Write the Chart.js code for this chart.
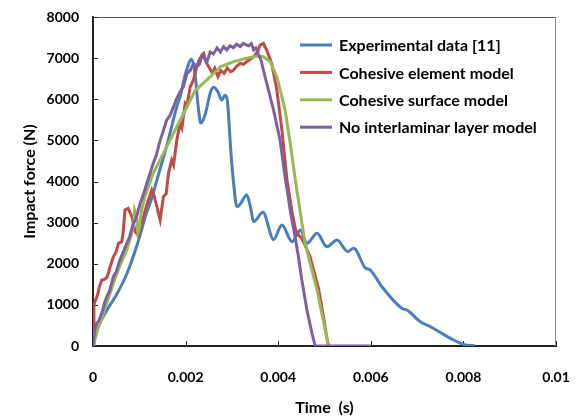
<!DOCTYPE html>
<html>
<head>
<meta charset="utf-8">
<script src="https://cdn.jsdelivr.net/npm/chart.js@4.4.1/dist/chart.umd.min.js"></script>
<style>
  body { margin: 0; background: #fff; }
  #impactChart { display: block; }
</style>
</head>
<body>
<canvas id="impactChart" width="583" height="417"></canvas>
<script>
// Datos (tiempo en s, fuerza en N)
const seriesNames = ["Experimental data [11]", "Cohesive element model", "Cohesive surface model", "No interlaminar layer model"];
const seriesColors = ["#4a7ebb", "#be4b48", "#98b954", "#7d60a0"];

const xTicks = [0, 0.002, 0.004, 0.006, 0.008, 0.01];
const yTicks = [0, 1000, 2000, 3000, 4000, 5000, 6000, 7000, 8000];

const expTime = [
  0, 0.0001, 0.0003, 0.00052, 0.00074, 0.00095, 0.00116, 0.00127, 0.00138, 0.0016,
  0.00181, 0.00188, 0.002, 0.00213, 0.0022, 0.00228, 0.00233, 0.00243, 0.00253, 0.0026,
  0.0027, 0.00278, 0.00285, 0.0029, 0.00293, 0.00297, 0.00303, 0.00311, 0.00318, 0.00332,
  0.0034, 0.00347, 0.00367, 0.0039, 0.00408, 0.0043, 0.00448, 0.00462, 0.00484, 0.00505,
  0.00527, 0.0055, 0.00563, 0.00588, 0.00599, 0.00624, 0.00667, 0.00678, 0.00707, 0.00729,
  0.00772, 0.008, 0.00826
];
const expForce = [
  0, 430, 870, 1270, 1780, 2450, 3250, 3600, 4035, 4900,
  5817, 6060, 6630, 6970, 6650, 5737, 5420, 5660, 6143, 6290,
  6180, 5980, 6100, 5980, 5575, 4845, 4035, 3386, 3450, 3671,
  3386, 3022, 3250, 2590, 2942, 2535, 2820, 2497, 2740, 2414,
  2577, 2300, 2375, 1900, 1847, 1442, 916, 875, 591, 469,
  187, 41, 0
];

const elemTime = [
  0, 0.00002, 0.00005, 0.0001, 0.00014, 0.00019, 0.00025, 0.0003, 0.00034, 0.00037,
  0.00044, 0.0005, 0.00055, 0.00062, 0.00065, 0.00069, 0.00076, 0.00084, 0.00091, 0.00098,
  0.00104, 0.00109, 0.00118, 0.00127, 0.00132, 0.00138, 0.00145, 0.00152, 0.00158, 0.00163,
  0.0017, 0.00174, 0.00181, 0.00188, 0.00192, 0.00199, 0.00203, 0.0021, 0.00217, 0.00224,
  0.0023, 0.00235, 0.00239, 0.00244, 0.0025, 0.00258, 0.00263, 0.0027, 0.00276, 0.00283,
  0.0029, 0.00297, 0.00303, 0.0031, 0.00318, 0.00325, 0.00332, 0.0034, 0.00347, 0.00355,
  0.00361, 0.00368, 0.00375, 0.00386, 0.00397, 0.00408, 0.00419, 0.0043, 0.00438, 0.00444,
  0.00451, 0.00458, 0.00469, 0.0048, 0.00487, 0.00498, 0.00505, 0.00509
];
const elemForce = [
  0, 1000, 1100, 1250, 1450, 1604, 1620, 1665, 1800, 1928,
  2170, 2292, 2497, 2535, 2747, 3306, 3347, 3143, 2780, 2680,
  2950, 3143, 3500, 3792, 3650, 3386, 3063, 3630, 3700, 4198,
  4522, 4400, 5008, 5414, 5300, 5900, 5850, 6304, 6467, 6790,
  6850, 7074, 7115, 6900, 6790, 6630, 6750, 6548, 6700, 6630,
  6760, 6670, 6700, 6800, 6872, 6850, 6912, 6980, 7034, 7150,
  7318, 7359, 7196, 6872, 6223, 5251, 4035, 3250, 2800, 2700,
  2620, 2450, 2171, 1700, 1400, 700, 200, 0
];

const surfTime = [
  0, 0.0001, 0.00015, 0.0003, 0.00044, 0.00058, 0.00073, 0.0008, 0.00087, 0.0009,
  0.00094, 0.00097, 0.001, 0.00104, 0.00112, 0.0013, 0.00152, 0.00181, 0.00203, 0.0022,
  0.00253, 0.00275, 0.00303, 0.0033, 0.00354, 0.00368, 0.00383, 0.00397, 0.00415, 0.00426,
  0.00437, 0.00448, 0.00458, 0.00469, 0.00484, 0.00494, 0.00509
];
const surfForce = [
  0, 400, 552, 1050, 1524, 1950, 2334, 2600, 2900, 3300,
  3150, 2750, 2850, 3250, 3630, 4198, 4684, 5331, 5817, 6200,
  6546, 6790, 6912, 6993, 7050, 7034, 6912, 6550, 5737, 4928,
  4035, 3226, 2497, 2010, 1361, 795, 0
];

const noLayerTime = [
  0, 0.00003, 0.00008, 0.00012, 0.00019, 0.00025, 0.0003, 0.00036, 0.00044, 0.0005,
  0.00058, 0.00064, 0.00073, 0.00079, 0.00087, 0.00093, 0.00102, 0.00108, 0.00116, 0.00122,
  0.0013, 0.00137, 0.00145, 0.00151, 0.00159, 0.00166, 0.00174, 0.0018, 0.00188, 0.00195,
  0.00203, 0.0021, 0.00217, 0.00224, 0.00231, 0.00239, 0.00246, 0.00253, 0.0026, 0.00268,
  0.00275, 0.00282, 0.00289, 0.00296, 0.00303, 0.0031, 0.00318, 0.00325, 0.0033, 0.00336,
  0.00342, 0.00347, 0.00352, 0.00357, 0.00363, 0.00368, 0.00379, 0.0039, 0.00404, 0.00415,
  0.00426, 0.00435, 0.00444, 0.00451, 0.00462, 0.00473, 0.0048, 0.006
];
const noLayerForce = [
  0, 350, 560, 600, 800, 1050, 1200, 1350, 1690, 1800,
  2090, 2250, 2500, 2650, 2980, 3100, 3470, 3650, 3950, 4150,
  4440, 4650, 5000, 5200, 5490, 5600, 5820, 6000, 6180, 6300,
  6630, 6700, 6870, 6800, 7000, 7030, 6900, 7150, 7100, 7250,
  7150, 7280, 7200, 7300, 7250, 7340, 7280, 7360, 7330, 7300,
  7350, 7200, 7250, 7100, 6950, 6710, 6223, 5737, 5000, 4100,
  3300, 2750, 2150, 1604, 875, 308, 0, 0
];

// Convierte dos arreglos en puntos {x, y}
function toPoints(times, forces) {
  return times.map((t, i) => ({ x: t, y: forces[i] }));
}

const fontFamily = "Lato, 'Liberation Sans', sans-serif";

// Marco del área de trazado y marcas de graduación hacia dentro
const framePlugin = {
  id: "framePlugin",
  beforeDatasetsDraw(chart) {
    const { ctx, chartArea: a, scales } = chart;
    ctx.save();
    ctx.strokeStyle = "#555";
    ctx.lineWidth = 1;
    ctx.beginPath();
    ctx.moveTo(a.left, a.top + 0.5);
    ctx.lineTo(a.right - 0.5, a.top + 0.5);
    ctx.stroke();
    ctx.strokeStyle = "#8c8c8c";
    ctx.beginPath();
    ctx.moveTo(a.right - 0.5, a.top);
    ctx.lineTo(a.right - 0.5, a.bottom);
    ctx.stroke();

    ctx.strokeStyle = "#222";
    ctx.beginPath();
    scales.x.ticks.forEach((t) => {
      const px = Math.round(scales.x.getPixelForValue(t.value)) + 0.5;
      ctx.moveTo(px, a.bottom);
      ctx.lineTo(px, a.bottom - 5);
    });
    scales.y.ticks.forEach((t) => {
      const py = Math.round(scales.y.getPixelForValue(t.value)) + 0.5;
      ctx.moveTo(a.left, py);
      ctx.lineTo(a.left + 5, py);
    });
    ctx.stroke();
    ctx.restore();
  },
};

// Leyenda dibujada dentro del área del gráfico
const insideLegend = {
  id: "insideLegend",
  afterDraw(chart) {
    const { ctx } = chart;
    const x0 = 300, lineLen = 32, textX = 339, y0 = 45, rowGap = 27.4;
    ctx.save();
    ctx.font = "bold 16px " + fontFamily;
    ctx.textBaseline = "middle";
    ctx.fillStyle = "#000";
    chart.data.datasets.forEach((ds, i) => {
      const y = y0 + i * rowGap;
      ctx.strokeStyle = ds.borderColor;
      ctx.lineWidth = 3;
      ctx.beginPath();
      ctx.moveTo(x0, y);
      ctx.lineTo(x0 + lineLen, y);
      ctx.stroke();
      ctx.fillText(ds.label, textX, y + 1);
    });
    ctx.restore();
  },
};

const allTimes = [expTime, elemTime, surfTime, noLayerTime];
const allForces = [expForce, elemForce, surfForce, noLayerForce];

const datasets = seriesNames.map((name, i) => ({
  label: name,
  data: toPoints(allTimes[i], allForces[i]),
  borderColor: seriesColors[i],
  backgroundColor: seriesColors[i],
  borderWidth: 3,
  pointRadius: 0,
  fill: false,
  cubicInterpolationMode: i === 0 ? "monotone" : "default",
  tension: 0,
  order: 3 - i, // el último de la leyenda queda encima
}));

// Las marcas invisibles separan las etiquetas del eje sin inflar el padding
const hiddenTicks = (len) => ({
  display: true,
  drawOnChartArea: false,
  drawTicks: true,
  tickLength: len,
  tickColor: "rgba(0,0,0,0)",
});

const impactChart = new Chart(document.getElementById("impactChart"), {
  type: "line",
  data: { datasets: datasets },
  plugins: [framePlugin, insideLegend],
  options: {
    responsive: false,
    animation: false,
    devicePixelRatio: 1,
    layout: { padding: { top: 17, right: 27, left: 0, bottom: 0 } },
    plugins: {
      legend: { display: false },
      tooltip: { enabled: false },
    },
    scales: {
      x: {
        type: "linear",
        min: xTicks[0],
        max: xTicks[xTicks.length - 1],
        afterFit: (scale) => { scale.height = 71; },
        afterBuildTicks: (scale) => { scale.ticks = xTicks.map((v) => ({ value: v })); },
        grid: hiddenTicks(23),
        border: { display: true, color: "#222", width: 2 },
        ticks: {
          padding: 0,
          color: "#000",
          font: { family: fontFamily, size: 14, weight: "bold" },
          callback: (v) => String(Number(v.toFixed(6))),
        },
        title: {
          display: true,
          text: "Time  (s)",
          color: "#000",
          padding: { top: 0, bottom: 0 },
          font: { family: fontFamily, size: 16, weight: "bold" },
        },
      },
      y: {
        min: yTicks[0],
        max: yTicks[yTicks.length - 1],
        afterFit: (scale) => { scale.width = 93; },
        afterBuildTicks: (scale) => { scale.ticks = yTicks.map((v) => ({ value: v })); },
        grid: hiddenTicks(14),
        border: { display: true, color: "#222", width: 2 },
        ticks: {
          padding: 0,
          color: "#000",
          font: { family: fontFamily, size: 14, weight: "bold" },
          callback: (v) => String(v),
        },
        title: {
          display: true,
          text: "Impact force (N)",
          color: "#000",
          padding: { top: 20, bottom: 0 },
          font: { family: fontFamily, size: 16, weight: "bold" },
        },
      },
    },
  },
});
</script>
</body>
</html>
